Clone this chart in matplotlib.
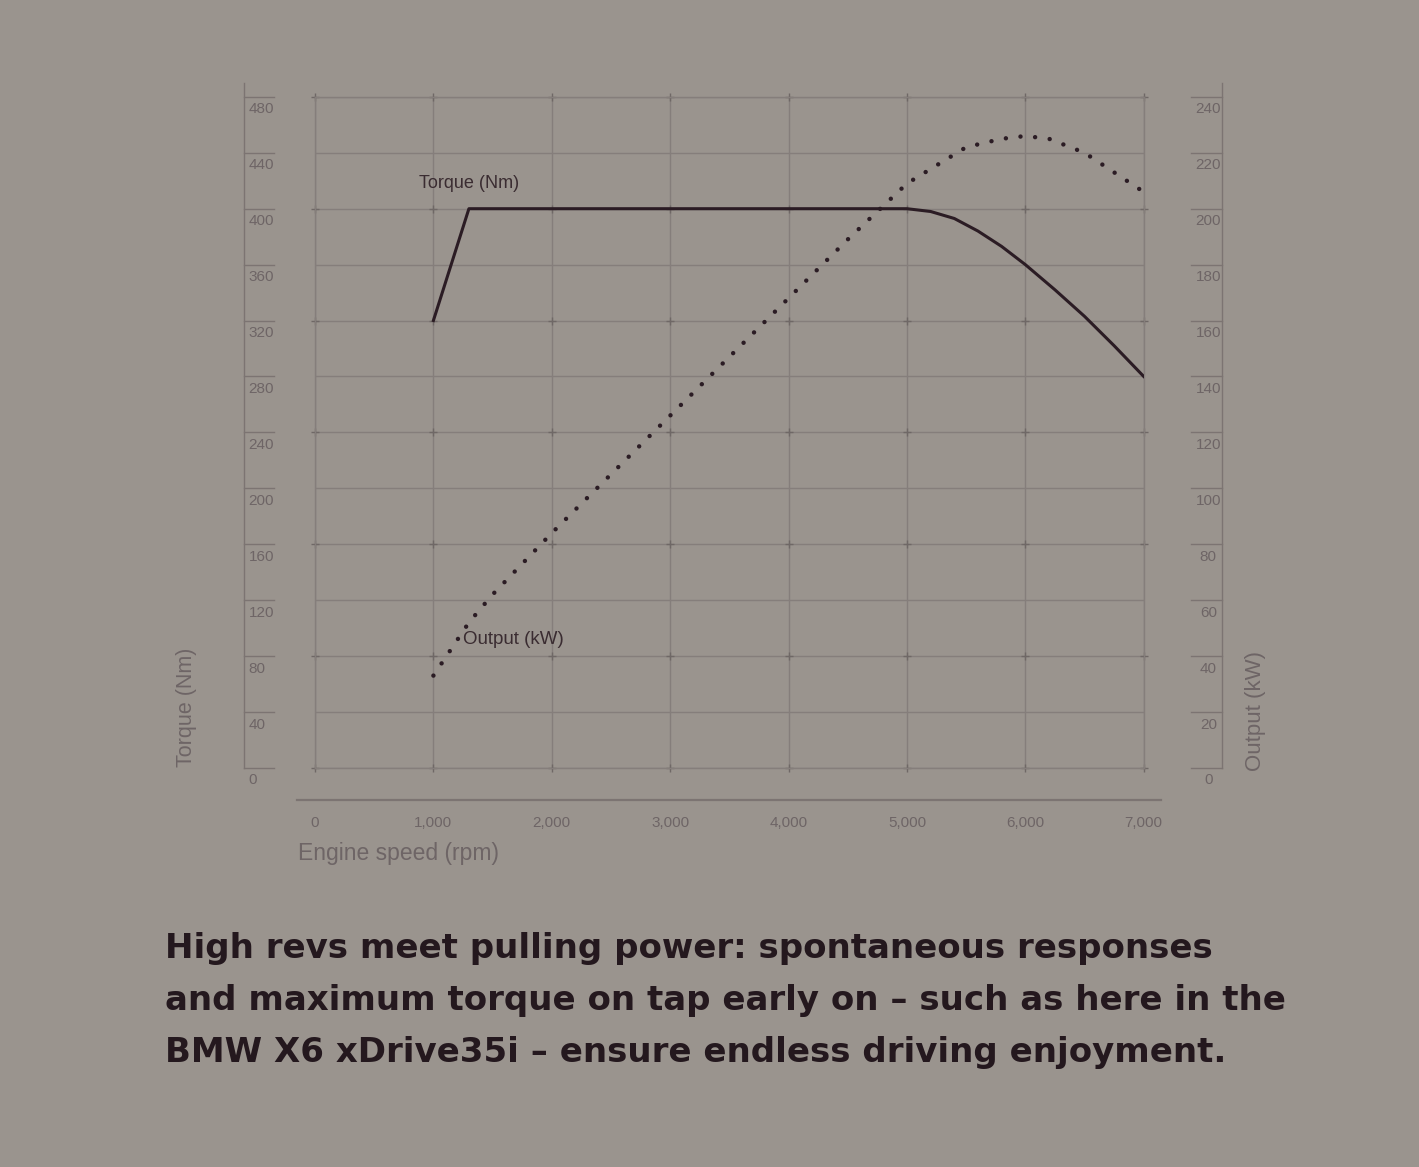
import matplotlib
matplotlib.use("Agg")
import matplotlib.pyplot as plt
import matplotlib.transforms as mtransforms
import numpy as np

# ---- data ----
torque_rpm = [1000, 1300, 5000, 5200, 5400, 5600, 5800, 6000, 6250, 6500, 6750, 7000]
torque_nm = [320, 400, 400, 398, 393, 384, 373, 360, 342, 323, 302, 280]

output_rpm = [1000, 1300, 1500, 2000, 2500, 3000, 3500, 4000, 4500, 5000,
              5500, 5800, 6000, 6200, 6500, 7000]
output_kw = [33, 52, 62, 84, 105, 126, 147, 168, 189, 209,
             222, 225, 226, 225, 220, 206]

x_ticks = [0, 1000, 2000, 3000, 4000, 5000, 6000, 7000]
x_tick_labels = ["0", "1,000", "2,000", "3,000", "4,000", "5,000", "6,000", "7,000"]
torque_ticks = [0, 40, 80, 120, 160, 200, 240, 280, 320, 360, 400, 440, 480]
output_ticks = [0, 20, 40, 60, 80, 100, 120, 140, 160, 180, 200, 220, 240]

caption = ("High revs meet pulling power: spontaneous responses\n"
           "and maximum torque on tap early on \u2013 such as here in the\n"
           "BMW X6 xDrive35i \u2013 ensure endless driving enjoyment.")

# ---- style ----
bg = "#9a948e"
grid_c = "#857e7b"
axis_c = "#7c7472"
label_c = "#6e6566"
line_c = "#2b1c24"
font = ["Liberation Sans", "DejaVu Sans"]

fig = plt.figure(figsize=(14.19, 11.67), dpi=100, facecolor=bg)
ax = fig.add_axes([0.222, 0.342, 0.584, 0.575])
ax.set_facecolor(bg)
ax.set_xlim(0, 7000)
ax.set_ylim(0, 480)
for s in ax.spines.values():
    s.set_color(grid_c)
    s.set_linewidth(1.0)
ax.set_xticks(x_ticks)
ax.set_yticks(torque_ticks)
ax.tick_params(length=0, labelleft=False, labelbottom=False)
ax.grid(True, color=grid_c, linewidth=1.0)
ax.set_axisbelow(True)

# small crosses at grid intersections
gx, gy = np.meshgrid(x_ticks, torque_ticks[::2])
ax.plot(gx.ravel(), gy.ravel(), linestyle="none", marker="+", markersize=6,
        markeredgewidth=1.0, color="#6f6866", zorder=1, clip_on=False)

ax2 = ax.twinx()
ax2.set_ylim(0, 240)
ax2.axis("off")

# torque line
ax.plot(torque_rpm, torque_nm, color=line_c, linewidth=2.2, zorder=3,
        solid_joinstyle="round")
# output dotted
ax2.plot(output_rpm, output_kw, color=line_c, linewidth=3.2,
         linestyle=(0, (0.01, 3.3)), dash_capstyle="round", zorder=3)

ax.text(880, 418, "Torque (Nm)", fontsize=13, color="#3a2c31",
        family=font, ha="left", va="center")
ax.text(1250, 92, "Output (kW)", fontsize=13.5, color="#3a2c31",
        family=font, ha="left", va="center")

# ---- left scale ----
tl = mtransforms.blended_transform_factory(ax.transAxes, ax.transData)
ax.plot([-0.086, -0.086], [0, 490], color=axis_c, lw=1.0,
        transform=tl, clip_on=False)
for v in torque_ticks:
    ax.plot([-0.086, -0.050], [v, v], color=axis_c, lw=1.0,
            transform=tl, clip_on=False)
    ax.text(-0.080, v - 4, str(v), transform=tl, fontsize=11,
            color=label_c, family=font, ha="left", va="top")

# ---- right scale ----
tr = mtransforms.blended_transform_factory(ax.transAxes, ax2.transData)
ax2.plot([1.095, 1.095], [0, 245], color=axis_c, lw=1.0,
         transform=tr, clip_on=False)
for v in output_ticks:
    ax2.plot([1.057, 1.095], [v, v], color=axis_c, lw=1.0,
             transform=tr, clip_on=False)
    ax2.text(1.078, v - 2, str(v), transform=tr, fontsize=11,
             color=label_c, family=font, ha="center", va="top")

# ---- x scale ----
tx = mtransforms.blended_transform_factory(ax.transData, ax.transAxes)
ax.plot([-150, 7150], [-0.048, -0.048], color=axis_c, lw=1.6,
        transform=tx, clip_on=False)
for v, lab in zip(x_ticks, x_tick_labels):
    ax.text(v, -0.072, lab, transform=tx, fontsize=11, color=label_c,
            family=font, ha="center", va="top")
ax.text(-0.02, -0.110, "Engine speed (rpm)", transform=ax.transAxes,
        fontsize=16.5, color=label_c, family=font, ha="left", va="top")

ax.text(-0.155, 0.09, "Torque (Nm)", transform=ax.transAxes, rotation=90,
        fontsize=15.5, color=label_c, family=font, ha="center", va="center")
ax.text(1.135, 0.085, "Output (kW)", transform=ax.transAxes, rotation=90,
        fontsize=16, color=label_c, family=font, ha="center", va="center")

# ---- caption ----
fig.text(0.116, 0.201, caption, fontsize=24.5, fontweight="bold",
         color="#24181e", family=["DejaVu Sans"], ha="left", va="top",
         linespacing=1.72)

fig.savefig("out.png", dpi=100, facecolor=bg)
